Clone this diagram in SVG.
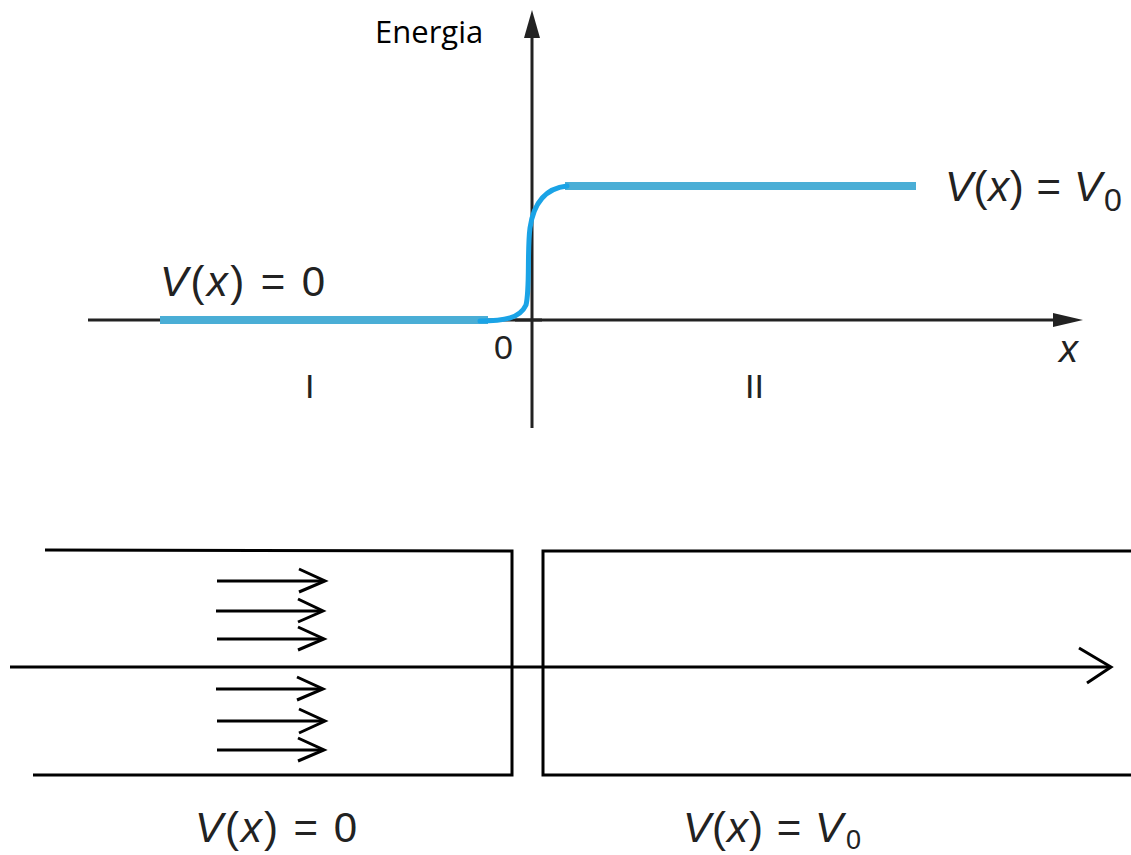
<svg xmlns="http://www.w3.org/2000/svg" width="1131" height="855" viewBox="0 0 1131 855">
<defs>
<style>
.ax{stroke:#222;stroke-width:3;fill:none}
.bk{stroke:#000;stroke-width:3;fill:none}
.lvl{stroke:#4aaed6;stroke-width:8;fill:none}
.crv{stroke:#1aa3e6;stroke-width:5;fill:none;stroke-linecap:round}
.t{font-family:"Liberation Sans",Arial,sans-serif;fill:#222;font-size:42px}
.i{font-style:italic}
.lbl{font-family:"Open Sans","Liberation Sans",sans-serif;font-size:31px;fill:#000}
</style>
</defs>
<rect width="1131" height="855" fill="#fff"/>
<g id="energy-graph">
<g id="axes">
<line class="ax" x1="532" y1="428" x2="532" y2="30"/>
<polygon points="532,10 524,38 540,38" fill="#222"/>
<line class="ax" x1="88" y1="320" x2="1060" y2="320"/>
<polygon points="1083,320 1053,313 1053,327" fill="#222"/>
<line class="ax" x1="515" y1="320" x2="542" y2="320"/>
</g>
<g id="potential">
<line class="lvl" x1="160" y1="320" x2="488" y2="320"/>
<line class="lvl" x1="565" y1="186" x2="916" y2="186"/>
<path class="crv" d="M480,321 C505,321 520,318 526,305 C530,290 527,250 530,228 C534,200 548,188 567,186"/>
</g>
<text class="lbl" x="375" y="43">Energia</text>
<text class="t" x="160" y="296" textLength="165"><tspan class="i">V</tspan>(<tspan class="i">x</tspan>) = 0</text>
<text class="t" x="945" y="201" textLength="157"><tspan class="i">V</tspan>(<tspan class="i">x</tspan>) = <tspan class="i">V</tspan></text>
<text class="t" x="1104" y="211" style="font-size:32px">0</text>
<text class="t i" x="1059" y="362" style="font-size:38px">x</text>
<text class="t" x="494" y="359" style="font-size:34px">0</text>
<text class="t" x="305" y="398" style="font-size:34px">I</text>
<text class="t" x="745" y="398" style="font-size:34px">II</text>
</g>
<g id="barrier-sketch">
<g id="region-I">
<polyline class="bk" points="45,550 512,551 512,775 33,775"/>
</g>
<g id="region-II">
<polyline class="bk" points="1131,551 543,551 543,775 1131,775"/>
</g>
<g id="connectors">
<line class="bk" x1="10" y1="667" x2="1110" y2="667"/>
<polyline class="bk" points="1079,648 1111,667 1087,683"/>
<g id="incident-waves">
<line class="bk" x1="217" y1="581" x2="324" y2="581"/><polyline class="bk" points="299,569 325,581 299,592"/>
<line class="bk" x1="216" y1="611" x2="322" y2="611"/><polyline class="bk" points="298,599 323,611 298,622"/>
<line class="bk" x1="217" y1="639" x2="323" y2="639"/><polyline class="bk" points="298,627 324,639 298,650"/>
<line class="bk" x1="216" y1="689" x2="322" y2="689"/><polyline class="bk" points="297,677 323,689 297,700"/>
<line class="bk" x1="217" y1="721" x2="324" y2="721"/><polyline class="bk" points="299,709 325,721 299,733"/>
<line class="bk" x1="217" y1="750" x2="323" y2="750"/><polyline class="bk" points="298,738 324,750 298,761"/>
</g>
</g>
<text class="t" x="195" y="842" textLength="162"><tspan class="i">V</tspan>(<tspan class="i">x</tspan>) = 0</text>
<text class="t" x="683" y="842" textLength="160"><tspan class="i">V</tspan>(<tspan class="i">x</tspan>) = <tspan class="i">V</tspan></text>
<text class="t" x="846" y="849" style="font-size:27px">0</text>
</g>
</svg>
